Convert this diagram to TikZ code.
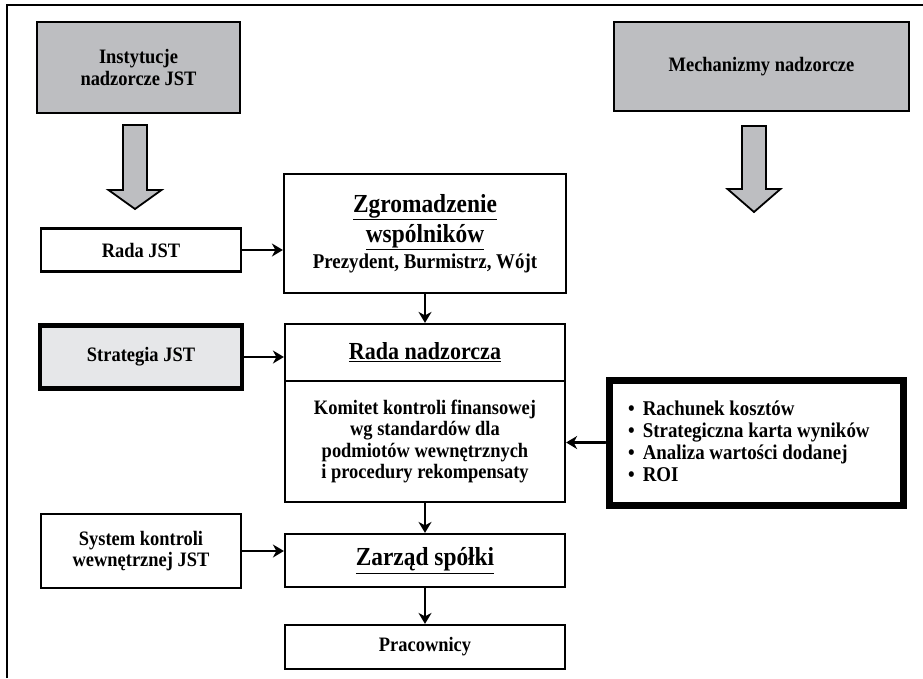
\documentclass[tikz,border=0pt]{standalone}
\usepackage{fontspec}
\setmainfont{Liberation Serif}[FakeStretch=0.9]
\usetikzlibrary{arrows.meta}
\definecolor{boxgray}{RGB}{189,190,193}
\definecolor{palegray}{RGB}{230,231,233}
\begin{document}
\begin{tikzpicture}[x=1pt,y=-1pt,
  box/.style={draw, line width=2.2pt, inner sep=2pt, align=center,
    font=\bfseries\fontsize{20.5}{21.5}\selectfont},
  graybox/.style={box, fill=boxgray, line width=2.5pt},
  conn/.style={line width=2.8pt, line cap=round,
    -{Stealth[length=11pt,width=13pt,inset=3.5pt]}},
  blockarrow/.style={draw, line width=1.8pt, fill=boxgray, line join=miter}
]
\useasboundingbox (0,0) rectangle (923,678);
\draw[line width=1.3pt] (7,678) -- (7,5) -- (923,5);

\node[graybox, minimum width=203, minimum height=91] (inst) at (138.5,67.5) {Instytucje\\nadzorcze JST};
\node[graybox, minimum width=295, minimum height=89] (mech) at (761.5,66.5) {Mechanizmy nadzorcze};

\node[box, minimum width=200, minimum height=43] (rada) at (141,250) {Rada JST};
\node[box, minimum width=282, minimum height=119] (zgr) at (425,233.5)
  {{\fontsize{26}{25}\selectfont\underline{Zgromadzenie}}\\[3pt]
   {\fontsize{26}{25}\selectfont\underline{wspólników}}\\[3pt]
   {\fontsize{21}{22}\selectfont Prezydent, Burmistrz, Wójt}};

\node[box, fill=palegray, line width=4.2pt, minimum width=202, minimum height=63] (strat) at (141,357) {Strategia JST};

\node[box, minimum width=280, minimum height=57] (rn) at (425,352.5)
  {\fontsize{24.5}{26}\selectfont\underline{Rada nadzorcza}};
\node[box, minimum width=280, minimum height=121] (kom) at (425,441.5)
  {Komitet kontroli finansowej\\wg standardów dla\\podmiotów wewnętrznych\\i procedury rekompensaty};

\node[draw, line width=7pt, minimum width=294, minimum height=125] (bul) at (756,442.5) {};
\node[anchor=west, align=left, inner sep=0, font=\bfseries\fontsize{21}{22}\selectfont] (bl) at (628,441)
  {\textbullet\hspace{8pt}Rachunek kosztów\\
   \textbullet\hspace{8pt}Strategiczna karta wyników\\
   \textbullet\hspace{8pt}Analiza wartości dodanej\\
   \textbullet\hspace{8pt}ROI};

\node[box, minimum width=200, minimum height=74] (sys) at (141,551) {System kontroli\\wewnętrznej JST};
\node[box, minimum width=280, minimum height=53] (zarz) at (425,560.5)
  {\fontsize{26}{26}\selectfont\underline{Zarząd spółki}};
\node[box, minimum width=280, minimum height=44] (prac) at (425,647) {Pracownicy};

% block arrows
\draw[blockarrow, shift={(135,125)}] (-12,0) -- (-12,65) -- (-26.5,65) -- (0,84) -- (26.5,65) -- (12,65) -- (12,0) -- cycle;
\draw[blockarrow, shift={(754,126)}] (-12,0) -- (-12,63) -- (-26.5,63) -- (0,86) -- (26.5,63) -- (12,63) -- (12,0) -- cycle;

% connectors
\draw[conn] (rada.east) -- (rada.east -| zgr.west);
\draw[conn] (zgr.south) -- (rn.north);
\draw[conn] (strat.east) -- (strat.east -| rn.west);
\draw[conn] (bul.west) -- (bul.west -| kom.east);
\draw[conn] (kom.south) -- (zarz.north);
\draw[conn] (sys.east) -- (sys.east -| zarz.west);
\draw[conn] (zarz.south) -- (prac.north);
\end{tikzpicture}
\end{document}
